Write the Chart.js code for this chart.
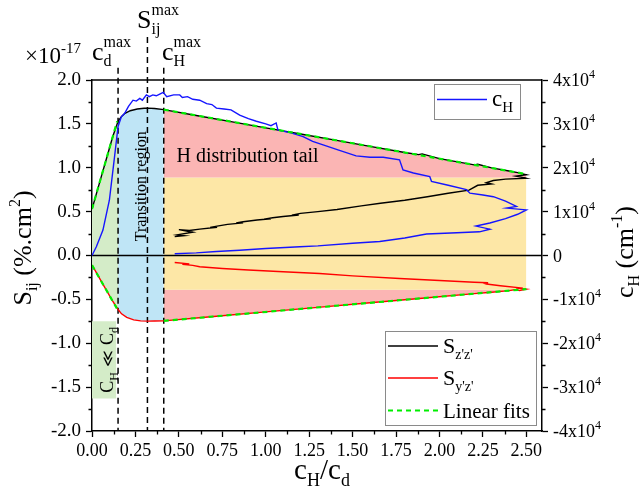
<!DOCTYPE html>
<html><head><meta charset="utf-8">
<script src="https://cdn.jsdelivr.net/npm/chart.js@4"></script>
<style>html,body{margin:0;padding:0;background:#fff;}canvas{display:block;}</style>
</head><body>
<canvas id="c" width="641" height="495"></canvas>
<script>
// ---------------- data ----------------
const xTickVals = [0, 0.25, 0.5, 0.75, 1, 1.25, 1.5, 1.75, 2, 2.25, 2.5];
const yTickVals = [-2, -1.5, -1, -0.5, 0, 0.5, 1, 1.5, 2];
const y2TickVals = [-40000, -30000, -20000, -10000, 0, 10000, 20000, 30000, 40000];

// region boundaries along c_H/c_d : low-c_H zone, transition region, H distribution tail
const regionEdges = [0, 0.15, 0.413, 2.5];
const tailBand = [0.888, -0.39];          // S levels bounding the yellow band
const lowBox = [0, 0.14, -0.75, -1.63];   // x0, x1, yTop, yBottom of the "c_H << c_d" label box
const markerX = [0.15, 0.319, 0.413];     // c_d^max, S_ij^max, c_H^max
const markerTop = [2.14, 2.49, 2.14];

// S_z'z' (x10^-17 %.cm^2) : loading branch then return branch
const szzUp = [[0,0.53],[0.03,0.737],[0.06,0.944],[0.09,1.151],[0.12,1.358],[0.15,1.53],[0.17,1.585],[0.19,1.62],[0.22,1.65],[0.26,1.67],[0.3,1.678],[0.32,1.68],[0.36,1.675],[0.413,1.662],[0.6,1.596],[0.8,1.526],[1.0,1.455],[1.2,1.385],[1.4,1.315],[1.6,1.244],[1.8,1.174],[1.88,1.15],[1.9,1.158],[2.0,1.104],[2.2,1.033],[2.22,1.04],[2.3,0.998],[2.4,0.963],[2.45,0.945],[2.5,0.92]];
const szzRet = [[2.44,0.905],[2.49,0.885],[2.5,0.88],[2.38,0.87],[2.31,0.855],[2.27,0.83],[2.3,0.815],[2.22,0.8],[2.17,0.745],[2.05,0.71],[1.93,0.67],[1.8,0.63],[1.66,0.595],[1.55,0.565],[1.41,0.525],[1.3,0.5],[1.2,0.48],[1.15,0.46],[1.19,0.462],[1.1,0.445],[1.04,0.43],[0.99,0.415],[1.03,0.418],[0.95,0.405],[0.87,0.385],[0.83,0.37],[0.87,0.372],[0.78,0.355],[0.72,0.335],[0.68,0.32],[0.72,0.322],[0.62,0.3],[0.56,0.285],[0.5,0.295],[0.58,0.265],[0.49,0.235],[0.53,0.225],[0.476,0.215]];

// S_y'z'
const syzUp = [[0,-0.11],[0.03,-0.213],[0.06,-0.317],[0.09,-0.42],[0.12,-0.524],[0.15,-0.615],[0.17,-0.665],[0.2,-0.705],[0.24,-0.733],[0.28,-0.745],[0.32,-0.748],[0.36,-0.747],[0.413,-0.745],[0.7,-0.695],[1.0,-0.643],[1.3,-0.591],[1.6,-0.539],[1.9,-0.487],[2.2,-0.435],[2.3,-0.418],[2.4,-0.4],[2.44,-0.388],[2.46,-0.4],[2.5,-0.383]];
const syzRet = [[2.44,-0.37],[2.48,-0.372],[2.35,-0.345],[2.27,-0.325],[2.25,-0.312],[2.28,-0.31],[2.2,-0.305],[2.0,-0.285],[1.77,-0.262],[1.5,-0.232],[1.31,-0.205],[1.1,-0.185],[0.9,-0.165],[0.75,-0.148],[0.62,-0.128],[0.58,-0.112],[0.52,-0.1],[0.56,-0.095],[0.476,-0.08]];

// c_H (cm^-1)
const cH = [[0,0],[0.025,2000],[0.063,5800],[0.1,12600],[0.13,22600],[0.15,29400],[0.169,31600],[0.188,32400],[0.21,34000],[0.236,35400],[0.255,35200],[0.275,35800],[0.29,35400],[0.313,36600],[0.33,36200],[0.35,36600],[0.37,36400],[0.39,36800],[0.41,37200],[0.43,36200],[0.47,36600],[0.505,36600],[0.52,36000],[0.55,36200],[0.58,35600],[0.62,35400],[0.66,34600],[0.69,34400],[0.716,33600],[0.76,33400],[0.8,33200],[0.85,32000],[0.9,31200],[0.946,30600],[1.0,30000],[1.03,29600],[1.06,30200],[1.07,28600],[1.15,27900],[1.215,27100],[1.27,26000],[1.33,25200],[1.42,24000],[1.52,22700],[1.6,22400],[1.676,22400],[1.77,21800],[1.79,19500],[1.85,18800],[1.944,18000],[1.954,16900],[2.05,16000],[2.155,15000],[2.175,14200],[2.25,13800],[2.31,13400],[2.38,12400],[2.443,11200],[2.386,10800],[2.5,10400],[2.45,9400],[2.38,8400],[2.29,7400],[2.21,6700],[2.29,6000],[2.23,5400],[2.1,5200],[1.925,4900],[1.8,4000],[1.656,3200],[1.5,2800],[1.3,2200],[1.196,2000],[1.0,1600],[0.85,1200],[0.716,900],[0.6,600],[0.476,400]];

// linear fits
const fitRiseZZ = [[0,0.53],[0.145,1.53]];
const fitTailZZ = [[0.413,1.662],[2.5,0.927]];
const fitRiseYZ = [[0,-0.11],[0.145,-0.61]];
const fitTailYZ = [[0.413,-0.745],[2.5,-0.383]];

// ---------------- helpers ----------------
const FONT = "'Liberation Serif','Times New Roman',serif";
const pts = a => a.map(p => ({x: p[0], y: p[1]}));
const between = (a, lo, hi) => pts(a.filter(p => p[0] >= lo - 1e-9 && p[0] <= hi + 1e-9));

const C_GREEN = '#d4ecc8', C_BLUE = '#bfe5f6', C_PINK = '#fbb5b4', C_YEL = '#fde7a6';

function fillDs(data, fill, color, yAxisID) {
  return {data, fill, backgroundColor: color, borderWidth: 0, pointRadius: 0, showLine: true, order: 20, yAxisID: yAxisID || 'y', tension: 0};
}
function lineDs(data, color, width, dash, order, yAxisID, clip) {
  return {data, borderColor: color, borderWidth: width, borderDash: dash || [], pointRadius: 0, showLine: true, fill: false, order, yAxisID: yAxisID || 'y', tension: 0, clip: clip === false ? false : undefined};
}

const datasets = [
  // shaded regions
  fillDs(between(szzUp, regionEdges[0], regionEdges[1]), 'origin', C_GREEN),
  fillDs(between(syzUp, regionEdges[0], regionEdges[1]), 'origin', C_GREEN),
  fillDs(between(szzUp, regionEdges[1], regionEdges[2]), 'origin', C_BLUE),
  fillDs(between(syzUp, regionEdges[1], regionEdges[2]), 'origin', C_BLUE),
  fillDs(between(szzUp, regionEdges[2], regionEdges[3]), {value: tailBand[0]}, C_PINK),
  fillDs(pts([[regionEdges[2], tailBand[0]], [regionEdges[3], tailBand[0]]]), {value: tailBand[1]}, C_YEL),
  fillDs(between(syzUp, regionEdges[2], regionEdges[3]), {value: tailBand[1]}, C_PINK),
  fillDs(pts([[lowBox[0], lowBox[2]], [lowBox[1], lowBox[2]]]), {value: lowBox[3]}, C_GREEN),
  // zero line
  lineDs(pts([[0, 0], [2.59, 0]]), '#000', 1.4, [], 8),
  // marker dashed lines
  ...markerX.map((m, i) => lineDs(pts([[m, markerTop[i]], [m, -2]]), '#000', 1.5, [6, 4], 7, 'y', false)),
  // curves
  lineDs(pts(szzUp.concat(szzRet)), '#000', 1.4, [], 5),
  lineDs(pts(syzUp.concat(syzRet)), '#ff0000', 1.4, [], 5),
  lineDs(pts(cH), '#1515ff', 1.4, [], 4, 'y2'),
  // fits
  lineDs(pts(fitRiseZZ), '#00ee00', 2.2, [5, 4], 1),
  lineDs(pts(fitTailZZ), '#00ee00', 2.2, [5, 4], 1),
  lineDs(pts(fitRiseYZ), '#00ee00', 2.2, [5, 4], 1),
  lineDs(pts(fitTailYZ), '#00ee00', 2.2, [5, 4], 1),
];

function rich(ctx, segs, x, y, align) {
  let cx = 0, prevStart = 0; const lay = [];
  for (const s of segs) {
    ctx.font = s.size + 'px ' + (s.family || FONT);
    const w = ctx.measureText(s.t).width;
    if (s.stack) { lay.push({s, x: prevStart}); cx = Math.max(cx, prevStart + w); }
    else { lay.push({s, x: cx}); prevStart = cx; cx += w; }
  }
  const off = align === 'center' ? -cx / 2 : align === 'right' ? -cx : 0;
  ctx.textAlign = 'left'; ctx.textBaseline = 'alphabetic';
  for (const l of lay) {
    ctx.font = l.s.size + 'px ' + (l.s.family || FONT);
    ctx.fillText(l.s.t, x + off + l.x, y + (l.s.dy || 0));
  }
  return cx;
}
function richRot(ctx, segs, x, y, ang) {
  ctx.save(); ctx.translate(x, y); ctx.rotate(ang); rich(ctx, segs, 0, 0, 'center'); ctx.restore();
}

const decor = {
  id: 'decor',
  afterDraw(chart) {
    const ctx = chart.ctx, a = chart.chartArea;
    const xs = chart.scales.x, ys = chart.scales.y, y2 = chart.scales.y2;
    ctx.save();
    ctx.fillStyle = '#000'; ctx.strokeStyle = '#000';
    // top frame
    ctx.lineWidth = 1.5;
    ctx.beginPath(); ctx.moveTo(a.left, a.top); ctx.lineTo(a.right, a.top); ctx.stroke();
    // minor ticks
    ctx.lineWidth = 1.3;
    ctx.beginPath();
    for (let i = 0; i < xTickVals.length; i++) {
      const v = xTickVals[i] + 0.125; if (v > xs.max) break;
      const px = Math.round(xs.getPixelForValue(v)) + 0.5;
      ctx.moveTo(px, a.bottom); ctx.lineTo(px, a.bottom + 3.5);
    }
    for (let i = 0; i < yTickVals.length - 1; i++) {
      const py = Math.round(ys.getPixelForValue(yTickVals[i] + 0.25)) + 0.5;
      ctx.moveTo(a.left, py); ctx.lineTo(a.left - 3.5, py);
    }
    for (let i = 0; i < y2TickVals.length - 1; i++) {
      const py = Math.round(y2.getPixelForValue(y2TickVals[i] + 5000)) + 0.5;
      ctx.moveTo(a.right, py); ctx.lineTo(a.right + 3.5, py);
    }
    ctx.stroke();
    // right axis labels
    for (const v of y2TickVals) {
      const py = y2.getPixelForValue(v) + 6;
      if (v === 0) rich(ctx, [{t: '0', size: 18}], a.right + 11, py, 'left');
      else rich(ctx, [{t: (v / 10000) + 'x10', size: 18}, {t: '4', size: 12, dy: -8}], a.right + 11, py, 'left');
    }
    // axis titles
    richRot(ctx, [{t: 'S', size: 26}, {t: 'ij', size: 16, dy: 6}, {t: ' (%.cm', size: 26}, {t: '2', size: 16, dy: -11}, {t: ')', size: 26}], 31, 248, -Math.PI / 2);
    richRot(ctx, [{t: 'c', size: 26}, {t: 'H', size: 16, dy: 6}, {t: ' (cm', size: 26}, {t: '-1', size: 16, dy: -11}, {t: ')', size: 26}], 633, 252, -Math.PI / 2);
    rich(ctx, [{t: 'c', size: 29}, {t: 'H', size: 18, dy: 7}, {t: '/c', size: 29}, {t: 'd', size: 18, dy: 7}], 322, 479, 'center');
    // multiplier
    rich(ctx, [{t: '\u00d710', size: 23}, {t: '-17', size: 15, dy: -10}], 25, 63, 'left');
    // marker labels
    rich(ctx, [{t: 'c', size: 26}, {t: 'max', size: 16, dy: -13}, {t: 'd', size: 16, dy: 6, stack: true}], 92, 60, 'left');
    rich(ctx, [{t: 'S', size: 26}, {t: 'max', size: 16, dy: -13}, {t: 'ij', size: 16, dy: 6, stack: true}], 137, 28, 'left');
    rich(ctx, [{t: 'c', size: 26}, {t: 'max', size: 16, dy: -13}, {t: 'H', size: 16, dy: 6, stack: true}], 162, 60, 'left');
    // region texts
    rich(ctx, [{t: 'H distribution tail', size: 20}], xs.getPixelForValue(0.486), ys.getPixelForValue(1.07), 'left');
    richRot(ctx, [{t: 'Transition region', size: 16}], xs.getPixelForValue(0.28) + 5, ys.getPixelForValue(0.79), -Math.PI / 2);
    richRot(ctx, [{t: 'C', size: 18}, {t: 'H', size: 12, dy: 5}, {t: ' \u226a ', size: 16, family: "'DejaVu Serif',serif"}, {t: 'C', size: 18}, {t: 'd', size: 12, dy: 5}], xs.getPixelForValue(0.085) + 6, ys.getPixelForValue(-1.19), -Math.PI / 2);
    // legend 1
    ctx.lineWidth = 1; ctx.strokeStyle = '#8a8a8a';
    ctx.strokeRect(434.5, 84.5, 86, 35);
    ctx.strokeStyle = '#1515ff'; ctx.lineWidth = 1.5;
    ctx.beginPath(); ctx.moveTo(437, 99.5); ctx.lineTo(487, 99.5); ctx.stroke();
    rich(ctx, [{t: 'c', size: 23}, {t: 'H', size: 15, dy: 6}], 492, 106, 'left');
    // legend 2
    ctx.lineWidth = 1; ctx.strokeStyle = '#8a8a8a';
    ctx.strokeRect(385.5, 331.5, 151, 94);
    const rows = [[346, '#000', [], "z'z'"], [378, '#ff0000', [], "y'z'"], [410.5, '#00ee00', [5, 4], null]];
    for (const r of rows) {
      ctx.strokeStyle = r[1]; ctx.lineWidth = r[3] ? 1.5 : 2.2; ctx.setLineDash(r[2]);
      ctx.beginPath(); ctx.moveTo(388, r[0]); ctx.lineTo(438, r[0]); ctx.stroke();
      ctx.setLineDash([]);
      if (r[3]) rich(ctx, [{t: 'S', size: 22}, {t: r[3], size: 14, dy: 6}], 443, r[0] + 7, 'left');
      else rich(ctx, [{t: 'Linear fits', size: 21}], 443, r[0] + 7, 'left');
    }
    ctx.restore();
  }
};

const tickFont = {family: FONT, size: 18};
new Chart(document.getElementById('c'), {
  type: 'scatter',
  data: {datasets},
  options: {
    responsive: false, animation: false, devicePixelRatio: 1,
    layout: {padding: {top: 80, left: 0, right: 0, bottom: 0}},
    plugins: {legend: {display: false}, tooltip: {enabled: false}},
    scales: {
      x: {
        type: 'linear', position: 'bottom', min: 0, max: 2.59,
        afterBuildTicks: s => { s.ticks = xTickVals.map(v => ({value: v})); },
        afterFit: s => { s.height = 64; },
        ticks: {font: tickFont, color: '#000', maxRotation: 0, autoSkip: false, padding: 3, callback: v => Number(v).toFixed(2)},
        grid: {drawOnChartArea: false, drawTicks: true, tickLength: 6, tickWidth: 1.3, tickColor: '#000'},
        border: {color: '#000', width: 1.5}
      },
      y: {
        type: 'linear', position: 'left', min: -2, max: 2,
        afterBuildTicks: s => { s.ticks = yTickVals.map(v => ({value: v})); },
        afterFit: s => { s.width = 92; },
        ticks: {font: {family: FONT, size: 19}, color: '#000', padding: 5, callback: v => Number(v).toFixed(1)},
        grid: {drawOnChartArea: false, drawTicks: true, tickLength: 6, tickWidth: 1.3, tickColor: '#000'},
        border: {color: '#000', width: 1.5}
      },
      y2: {
        type: 'linear', position: 'right', min: -40000, max: 40000,
        afterBuildTicks: s => { s.ticks = y2TickVals.map(v => ({value: v})); },
        afterFit: s => { s.width = 99; },
        ticks: {font: tickFont, color: '#000', callback: () => ''},
        grid: {drawOnChartArea: false, drawTicks: true, tickLength: 6, tickWidth: 1.3, tickColor: '#000'},
        border: {color: '#000', width: 1.5}
      }
    }
  },
  plugins: [decor]
});
</script>
</body></html>
